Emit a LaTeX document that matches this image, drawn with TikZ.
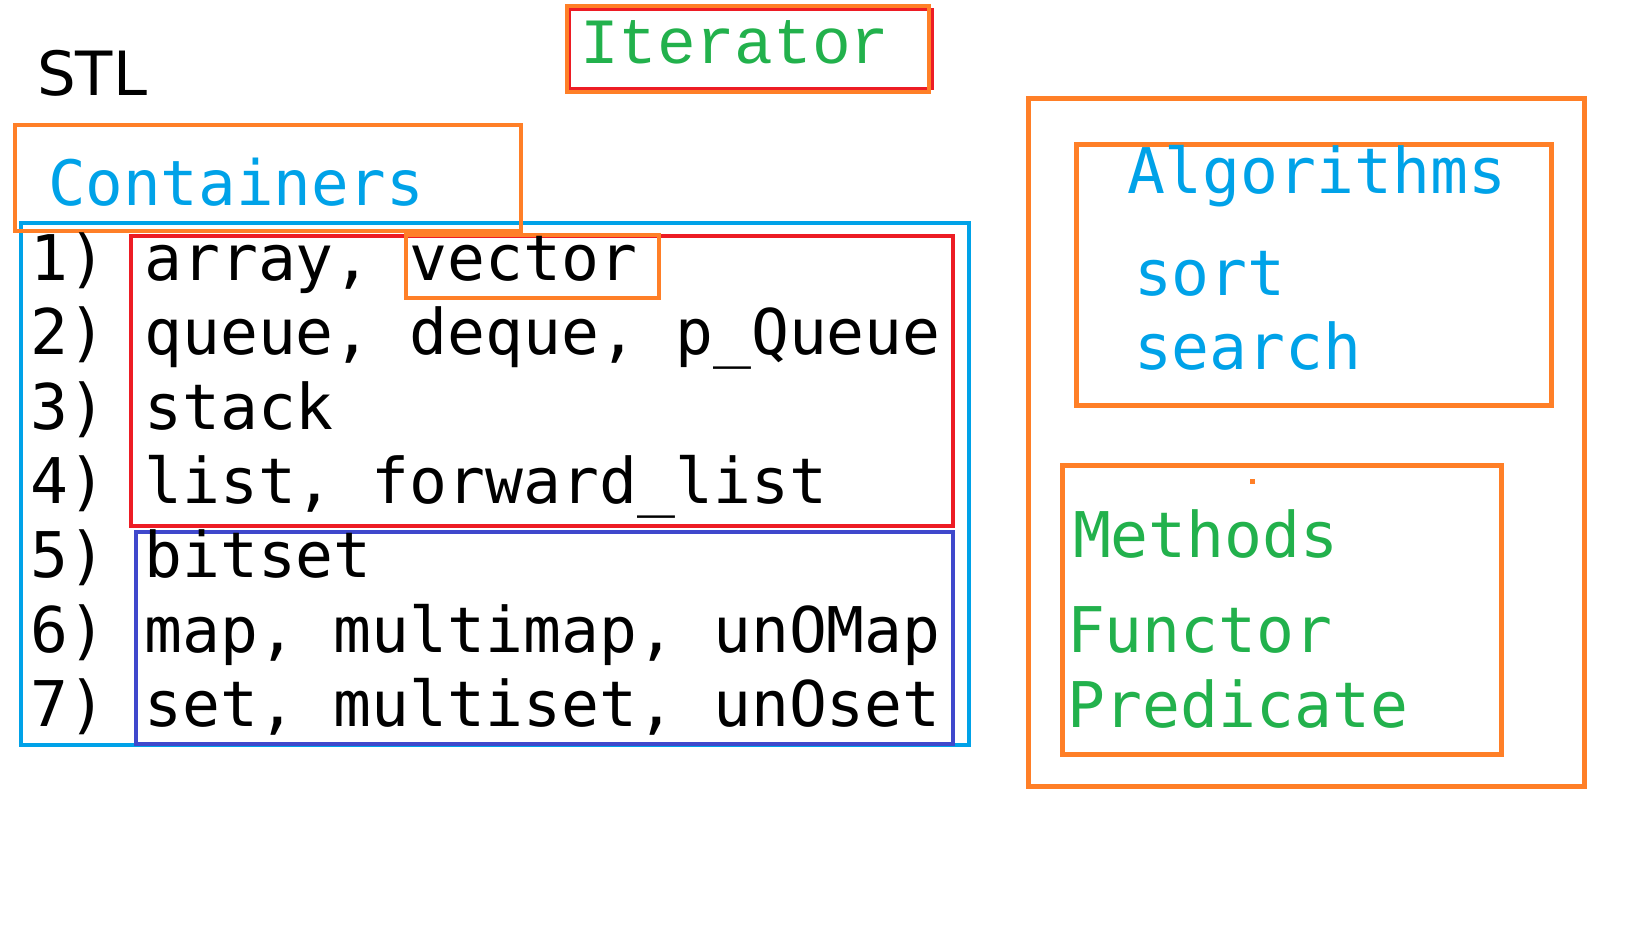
\documentclass[tikz,border=0pt]{standalone}
\usepackage{fontspec}
\newfontfamily\monofont{DejaVu Sans Mono}
\newfontfamily\iterfont{Liberation Mono}
\newfontfamily\stlfont{DejaVu Sans}
\definecolor{porange}{HTML}{FF7F27}
\definecolor{pred}{HTML}{ED1C24}
\definecolor{pblue}{HTML}{00A2E8}
\definecolor{pindigo}{HTML}{3F48CC}
\definecolor{pgreen}{HTML}{22B14C}
\begin{document}
\begin{tikzpicture}[x=1pt,y=-1pt,
  frame/.style={line width=4.6pt},
  obox/.style={frame,draw=porange},
  txt/.style={anchor=base west,inner sep=0pt,outer sep=0pt},
  listtxt/.style={txt,text=black,font=\monofont\fontsize{63}{70}\selectfont},
  bluetxt/.style={txt,text=pblue,font=\monofont\fontsize{63}{70}\selectfont},
  greentxt/.style={txt,text=pgreen,font=\monofont\fontsize{63}{70}\selectfont}]
\useasboundingbox[fill=white] (0,0) rectangle (1644,932);

% STL title
\node[txt,text=black,font=\stlfont\fontsize{61}{70}\selectfont] (stl) at (37,95) {STL};

% Iterator
\draw[line width=3pt,draw=pred] (569,9) rectangle (932,88);
\draw[obox] (567,6) rectangle (929,92);
\node[txt,text=pgreen,font=\iterfont\fontsize{64.5}{70}\selectfont] (iter) at (580,63) {Iterator};

% Containers block
\draw[frame,draw=pblue] (21,223) rectangle (969,745);
\draw[frame,draw=pred] (131,236) rectangle (953,526);
\draw[frame,draw=pindigo] (136,532) rectangle (953,744);
\draw[obox] (15,125) rectangle (521,231);
\draw[obox] (406,235) rectangle (659,298);
\node[txt,text=pblue,font=\monofont\fontsize{62.5}{70}\selectfont] (cont) at (48,205) {Containers};

\node[listtxt] (l1) at (30.5,280) {1) array, vector};
\node[listtxt] (l2) at (30.5,354.5) {2) queue, deque, p\_Queue};
\node[listtxt] (l3) at (30.5,429) {3) stack};
\node[listtxt] (l4) at (30.5,503) {4) list, forward\_list};
\node[listtxt] (l5) at (30.5,577.5) {5) bitset};
\node[listtxt] (l6) at (30.5,652) {6) map, multimap, unOMap};
\node[listtxt] (l7) at (30.5,726) {7) set, multiset, unOset};

% Right block
\draw[obox,line width=5pt] (1028.5,98) rectangle (1584.5,786.5);
\draw[obox,line width=5pt] (1076.5,144.5) rectangle (1551.5,405.5);
\draw[obox,line width=5pt] (1062.5,465.5) rectangle (1501.5,754.5);
\fill[porange] (1250,479) rectangle (1255,484);

\node[bluetxt] (alg) at (1127,193) {Algorithms};
\node[bluetxt] (sort) at (1134,295) {sort};
\node[bluetxt] (search) at (1134,369) {search};

\node[greentxt] (meth) at (1073,557) {Methods};
\node[greentxt] (func) at (1067,652) {Functor};
\node[greentxt] (pred) at (1067,727) {Predicate};
\end{tikzpicture}
\end{document}
